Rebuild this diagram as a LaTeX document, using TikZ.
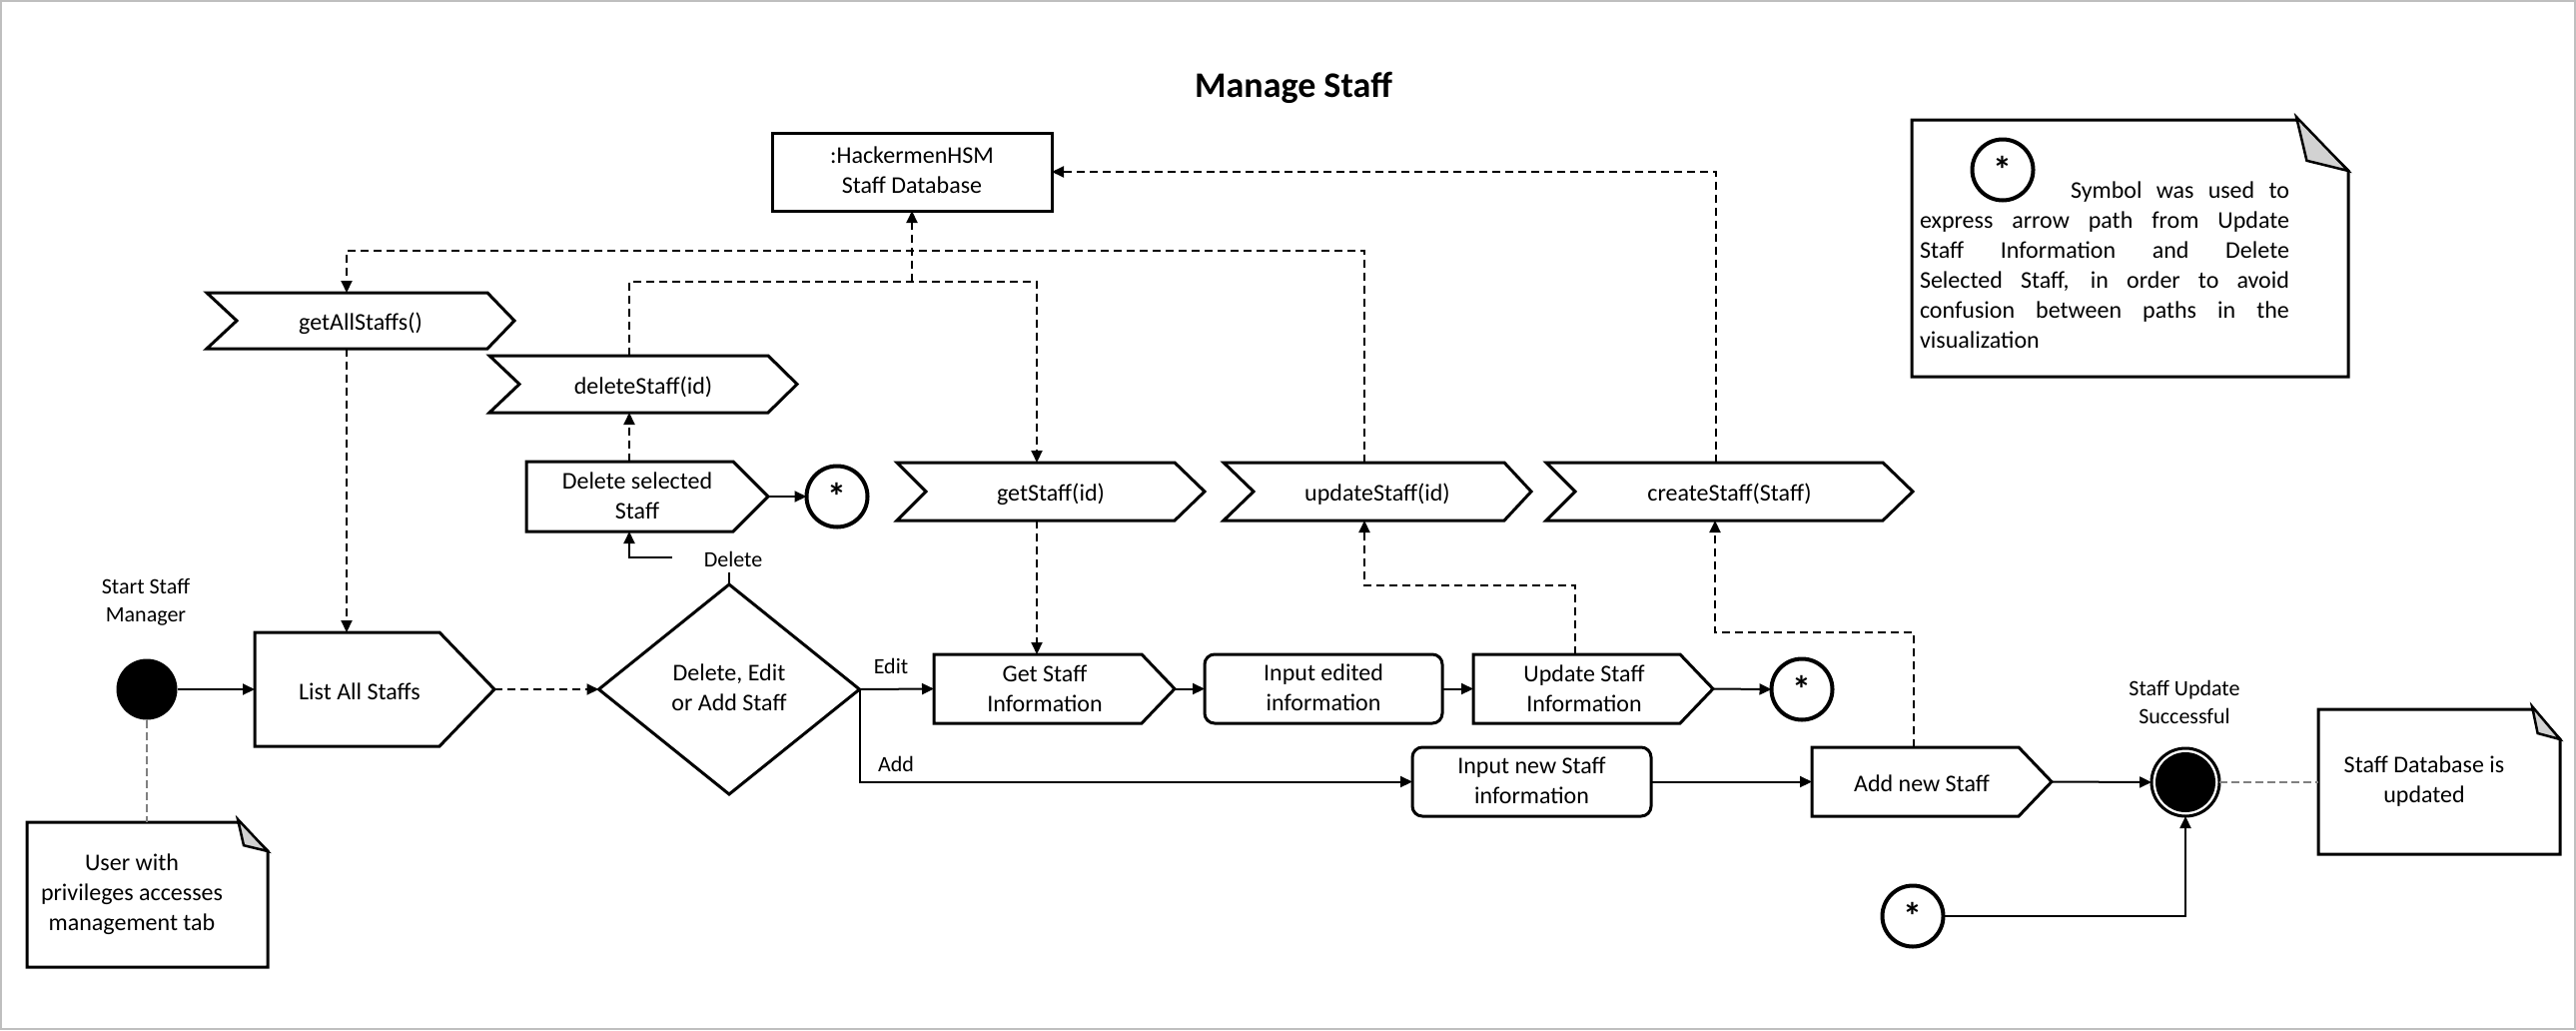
\documentclass[tikz,border=0pt]{standalone}
\usepackage{fontspec}
\setmainfont{Carlito}
\usetikzlibrary{shapes.geometric,arrows.meta,calc}
\newcommand\txtstrut{\rule[-3pt]{0pt}{26pt}}
\newcommand\lblstrut{\rule[-3pt]{0pt}{24pt}}
\newcommand\drawchev[3]{\draw[shp] (#1.north west) -- ([xshift=-#3]#1.north east) -- (#1.east) -- ([xshift=-#3]#1.south east) -- (#1.south west) -- ([xshift=#2]#1.west) -- cycle;}
\newcommand\drawpent[2]{\draw[shp] (#1.north west) -- ([xshift=-#2]#1.north east) -- (#1.east) -- ([xshift=-#2]#1.south east) -- (#1.south west) -- cycle;}
\newcommand\drawnote[3]{%
  \draw[shp] (#1.south west) -- (#1.north west) -- ([xshift=-#2]#1.north east) -- ([yshift=-#3]#1.north east) -- (#1.south east) -- cycle;
  \filldraw[shp,fill=gray!35,line width=2.5pt] ([xshift=-#2,yshift=3]#1.north east) -- ([xshift=-0.8*#2,yshift=-0.8*#3]#1.north east) -- ([yshift=-#3]#1.north east) -- cycle;}
\begin{document}
\begin{tikzpicture}[x=1pt,y=-1pt,
  every node/.style={inner sep=0pt,outer sep=0pt},
  txt/.style={font=\fontsize{24}{30}\selectfont,align=center,execute at begin node=\txtstrut,execute at end node=\txtstrut},
  lbl/.style={font=\fontsize{22}{28}\selectfont,align=center,execute at begin node=\lblstrut,execute at end node=\lblstrut},
  shp/.style={draw,line width=3pt,line join=miter},
  conn/.style={line width=2pt,-{Triangle[length=12pt,width=11pt]}},
  dconn/.style={conn,dash pattern=on 8pt off 5pt},
  gline/.style={line width=1.5pt,draw=gray,dash pattern=on 8pt off 4pt},
  star/.style={circle,draw,line width=4pt,minimum size=61pt,font=\fontsize{38}{40}\selectfont\bfseries}
]
\fill[white] (0,0) rectangle (2579,1031);
\useasboundingbox (0,0) rectangle (2579,1031);
\draw[gray!50,line width=2pt] (1,1) rectangle (2578,1030);

\node[font=\fontsize{36}{42}\selectfont\bfseries,anchor=base] (title) at (1295,97) {Manage Staff};

% database
\node[minimum width=280,minimum height=78,shp,txt] (db) at (913,172) {:HackermenHSM\\Staff Database};

% method chevrons
\node[minimum width=308,minimum height=56,txt] (gas) at (361,321) {getAllStaffs()};
\drawchev{gas}{30}{27}
\node[minimum width=308,minimum height=57,txt] (ds) at (644,384.5) {deleteStaff(id)};
\drawchev{ds}{30}{29}
\node[minimum width=308,minimum height=58,txt] (gs) at (1052,492) {getStaff(id)};
\drawchev{gs}{29}{30}
\node[minimum width=308,minimum height=58,txt] (us) at (1379,492) {updateStaff(id)};
\drawchev{us}{30}{27}
\node[minimum width=367,minimum height=58,txt] (cs) at (1731.5,492) {createStaff(Staff)};
\drawchev{cs}{29}{30}

% actions
\node[minimum width=242,minimum height=70] (dss) at (648,497) {};
\drawpent{dss}{35}
\node[txt] (dsst) at (638,497.5) {Delete selected\\Staff};
\node[minimum width=240,minimum height=114] (las) at (375,690) {};
\drawpent{las}{55}
\node[txt] (last) at (360,690) {List All Staffs};
\node[minimum width=241,minimum height=69] (gsi) at (1055.5,689.5) {};
\drawpent{gsi}{33}
\node[txt] (gsit) at (1046,691) {Get Staff\\Information};
\node[minimum width=238,minimum height=69,shp,rounded corners=10pt,txt] (iei) at (1325,689.5) {Input edited\\information};
\node[minimum width=240,minimum height=69] (usi) at (1595,689.5) {};
\drawpent{usi}{33}
\node[txt] (usit) at (1586,691) {Update Staff\\Information};
\node[minimum width=239,minimum height=69,shp,rounded corners=10pt,txt] (ins) at (1533.5,782.5) {Input new Staff\\information};
\node[minimum width=240,minimum height=69] (ans) at (1934,782.5) {};
\drawpent{ans}{33}
\node[txt] (anst) at (1924,782.5) {Add new Staff};

\node[diamond,shp,minimum width=261,minimum height=210,txt] (dia) at (730,690) {Delete, Edit\\or Add Staff};

% start / end
\node[circle,fill=black,minimum size=61] (st) at (147,690) {};
\node[lbl] (stl) at (146,603) {Start Staff\\Manager};
\node[circle,draw,line width=3pt,minimum size=68,fill=white] (endc) at (2188,783) {};
\fill (endc.center) circle (30pt);
\node[lbl] (endl) at (2187,704.5) {Staff Update\\Successful};

% connector circles
\node[star] (s1) at (838,497) {*};
\node[star] (s2) at (1804,690) {*};
\node[star] (s3) at (1915,917) {*};
\node[star] (s4) at (2005,170) {*};

% notes
\node[minimum width=241,minimum height=145] (n1) at (147.5,895.5) {};
\drawnote{n1}{30}{29}
\node[txt] (n1t) at (132,895.5) {User with\\privileges accesses\\management tab};
\node[minimum width=242,minimum height=145] (n2) at (2442,782.5) {};
\drawnote{n2}{28}{30}
\node[txt] (n2t) at (2427,782) {Staff Database is\\updated};
\node[minimum width=437,minimum height=257] (n3) at (2132.5,248.5) {};
\drawnote{n3}{52}{51}
\node[font=\fontsize{24}{30}\selectfont,text width=370pt,align=justify,anchor=north west] (n3t) at (1922,177) {\noindent\strut\hspace*{151pt}Symbol was used to\linebreak express arrow path from Update\linebreak Staff Information and Delete\linebreak Selected Staff, in order to avoid\linebreak confusion between paths in the\linebreak visualization\strut};

% labels
\node[lbl] (edl) at (892,665) {Edit};
\node[lbl] (adl) at (897,763) {Add};
\node[lbl] (dll) at (734,558) {Delete};

% helper coordinates
\coordinate (cA) at (347,0);
\coordinate (r1) at (347,251);
\coordinate (cU) at (1366,0);
\coordinate (cD) at (630,0);
\coordinate (r2) at (1038,282);
\coordinate (cC) at (1718,0);
\coordinate (cUb) at (1577,0);
\coordinate (r3) at (1366,586);
\coordinate (cAn) at (1916,0);
\coordinate (r4) at (1717,633);
\coordinate (dlA) at (730,573);
\coordinate (dlB) at (673,558);

% connectors
\draw[conn] (st.east) -- (las.west);
\draw[dconn] (las.east) -- (dia.west);
\draw[dconn] (gas.south -| cA) -- (las.north -| cA);
\draw[dconn] (us.north -| cU) |- (r1) -- (gas.north -| r1);
\draw[dconn] (ds.north -| cD) |- (r2) -- (gs.north -| r2);
\draw[dconn] (db.south |- r2) -- (db.south);
\draw[dconn] (cs.north -| cC) |- (db.east);
\draw[dconn] (dss.north -| cD) -- (ds.south -| cD);
\draw[conn] (dss.east) -- (s1.west);
\draw[line width=2pt] (dia.north) -- (dlA);
\draw[conn] (dlB) -| (dss.south -| cD);
\draw[conn] (dia.east) -- (gsi.west);
\draw[conn] (dia.east) |- (ins.west);
\draw[conn] (gsi.east) -- (iei.west);
\draw[conn] (iei.east) -- (usi.west);
\draw[conn] (usi.east) -- (s2.west);
\draw[dconn] (gs.south -| r2) -- (gsi.north -| r2);
\draw[dconn] (usi.north -| cUb) |- (r3) -- (us.south -| r3);
\draw[dconn] (ans.north -| cAn) |- (r4) -- (cs.south -| r4);
\draw[conn] (ins.east) -- (ans.west);
\draw[conn] (ans.east) -- (endc.west);
\draw[conn] (s3.east) -| (endc.south);
\draw[gline] (st.south) -- (st.south |- n1.north);
\draw[gline] (endc.east) -- (n2.west |- endc.east);
\end{tikzpicture}
\end{document}
